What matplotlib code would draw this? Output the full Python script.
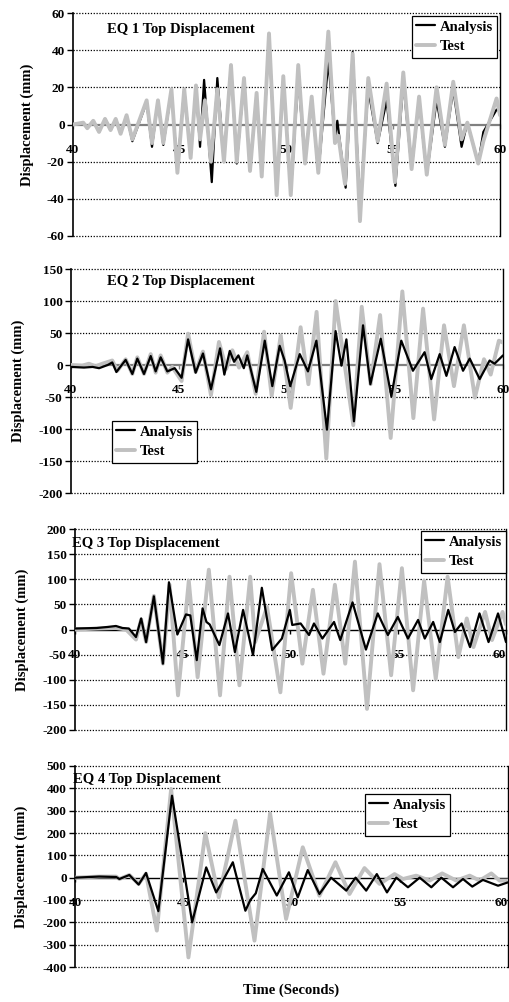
import matplotlib
matplotlib.use("Agg")
import matplotlib.pyplot as plt

plt.rcParams['font.family'] = ['Liberation Serif', 'DejaVu Serif']
plt.rcParams['font.weight'] = 'bold'

# ---------------- data ----------------
eq1_test_t = [40.00, 40.48, 40.67, 40.95, 41.22, 41.50, 41.76, 42.00, 42.23, 42.51, 42.78, 43.45, 43.70,
              43.98, 44.23, 44.61, 44.89, 45.21, 45.51, 45.76, 45.95, 46.18, 46.46, 46.76, 47.07, 47.40,
              47.67, 48.01, 48.29, 48.60, 48.84, 49.18, 49.54, 49.85, 50.20, 50.55, 50.87, 51.18, 51.49,
              51.96, 52.27, 52.43, 52.74, 53.10, 53.44, 53.83, 54.27, 54.69, 55.08, 55.47, 55.86, 56.21,
              56.57, 57.03, 57.42, 57.81, 58.20, 58.47, 58.98, 59.22, 59.84, 60.00]
eq1_test_v = [0, 1, -2, 2, -4, 3, -3, 3, -5, 5, -8, 13, -10, 13, -10, 19, -26, 19, -18, 21, -8, 13, -20,
              19, -20, 32, -20, 25, -25, 17, -28, 49, -38, 26, -38, 32, -21, 15, -26, 50, -10, -6, -32, 38,
              -52, 25, -9, 22, -31, 28, -24, 15, -27, 20, -11, 23, -8, 1, -21, -9, 14, 5]
eq1_ana_t = [40.00, 40.48, 40.67, 40.95, 41.22, 41.50, 41.76, 42.00, 42.23, 42.51, 42.78, 43.45, 43.70,
             43.98, 44.23, 44.61, 44.89, 45.21, 45.51, 45.76, 45.95, 46.14, 46.50, 46.76, 47.07, 47.40,
             47.67, 48.01, 48.29, 48.60, 48.84, 49.18, 49.54, 49.85, 50.20, 50.55, 50.87, 51.18, 51.49,
             51.96, 52.27, 52.38, 52.77, 53.10, 53.44, 53.83, 54.27, 54.69, 55.10, 55.47, 55.86, 56.21,
             56.57, 57.03, 57.42, 57.81, 58.20, 58.47, 58.98, 59.22, 59.84, 60.00]
eq1_ana_v = [0, 1, -2, 2, -4, 3, -3, 3, -5, 5, -9, 12, -12, 13, -11, 18, -24, 19, -17, 20, -12, 24, -31,
             25, -19, 32, -21, 24, -24, 16, -27, 47, -37, 25, -37, 25, -20, 14, -26, 34, -7, 2, -34, 39,
             -45, 19, -10, 13, -33, 23, -24, 13, -27, 13, -12, 19, -12, 1, -21, -4, 8, 8]

eq2_test_t = [40.00, 40.52, 40.83, 41.14, 41.45, 41.91, 42.15, 42.53, 42.84, 43.07, 43.38, 43.69, 43.92,
              44.15, 44.46, 44.69, 45.12, 45.42, 45.77, 46.11, 46.48, 46.85, 47.19, 47.47, 47.78, 48.16,
              48.55, 48.94, 49.29, 49.71, 50.17, 50.63, 50.99, 51.37, 51.82, 52.25, 53.07, 53.46, 53.87,
              54.31, 54.80, 55.34, 55.85, 56.30, 56.81, 57.27, 57.73, 58.19, 58.70, 59.12, 59.43, 59.81,
              60.00]
eq2_test_v = [0, -1, 2, -2, 2, 7, -9, 9, -14, 12, -14, 17, -12, 15, -12, -3, -25, 49, -11, 21, -47, 36,
              -6, 23, -4, 20, -45, 52, -48, 46, -67, 59, -30, 83, -146, 100, -94, 91, -30, 78, -114, 115,
              -83, 88, -85, 62, -33, 62, -51, 9, -15, 38, 35]
eq2_ana_t = [40.00, 40.60, 41.00, 41.30, 41.70, 41.91, 42.10, 42.53, 42.84, 43.07, 43.38, 43.69, 43.92,
             44.15, 44.46, 44.80, 45.12, 45.42, 45.77, 46.11, 46.48, 46.90, 47.10, 47.35, 47.55, 47.75,
             48.00, 48.16, 48.58, 48.97, 49.32, 49.66, 49.89, 50.15, 50.59, 50.97, 51.36, 51.85, 52.25,
             52.52, 52.75, 53.10, 53.52, 53.86, 54.34, 54.83, 55.29, 55.83, 56.37, 56.68, 57.07, 57.38,
             57.76, 58.15, 58.46, 58.92, 59.38, 59.61, 60.00]
eq2_ana_v = [-3, -4, -3, -5, 0, 4, -11, 8, -14, 10, -14, 14, -10, 12, -10, -5, -20, 40, -12, 18, -38,
             26, -15, 22, 5, 15, -5, 15, -42, 38, -33, 30, 7, -33, 17, -10, 38, -101, 53, -1, 40, -88, 62,
             -30, 41, -49, 38, -9, 20, -22, 17, -17, 28, -9, 10, -22, 7, 2, 15]

eq3_test_t = [40.00, 41.12, 41.90, 42.37, 42.83, 43.07, 43.30, 43.66, 44.08, 44.39, 44.78, 45.28, 45.69,
              46.21, 46.73, 47.17, 47.63, 48.13, 48.36, 48.91, 49.53, 50.03, 50.55, 51.04, 51.53, 52.06,
              52.54, 52.99, 53.55, 54.13, 54.67, 55.17, 55.69, 56.20, 56.74, 57.29, 57.79, 58.18, 58.49,
              59.03, 59.35, 59.84, 60.00]
eq3_test_v = [0, 2, 3, 0, -20, 20, -25, 67, -68, 89, -131, 97, -95, 119, -131, 105, -111, 105, -25, 45,
              -125, 112, -68, 79, -88, 89, -68, 135, -158, 130, -91, 122, -121, 97, -98, 105, -55, 22,
              -35, 35, -21, 35, 10]
eq3_ana_t = [40.00, 41.00, 41.50, 41.90, 42.20, 42.50, 42.83, 43.07, 43.30, 43.66, 44.08, 44.36, 44.75,
             45.15, 45.35, 45.65, 45.92, 46.10, 46.25, 46.70, 47.10, 47.42, 47.80, 48.26, 48.67, 49.15,
             49.60, 49.97, 50.08, 50.47, 50.86, 51.09, 51.48, 52.02, 52.31, 52.88, 53.50, 54.05, 54.52,
             54.98, 55.45, 55.92, 56.23, 56.62, 56.93, 57.32, 57.63, 57.94, 58.33, 58.77, 59.19, 59.63,
             60.00]
eq3_ana_v = [2, 3, 5, 7, 3, 2, -15, 22, -25, 66, -68, 94, -10, 30, 28, -61, 42, 15, 10, -31, 32, -45, 39,
             -51, 83, -41, -18, 39, 9, 12, -11, 12, -18, 15, -21, 54, -40, 32, -11, 25, -18, 19, -18, 15,
             -25, 39, -5, 12, -35, 32, -25, 32, -25]

eq4_test_t = [40.00, 41.12, 41.90, 42.05, 42.51, 42.94, 43.28, 43.78, 44.44, 45.24, 46.02, 46.64, 47.41,
              48.29, 49.01, 49.75, 50.52, 51.29, 52.03, 52.68, 53.37, 54.07, 54.76, 55.15, 55.76, 56.38,
              56.96, 57.61, 58.23, 58.69, 59.23, 59.61, 60.00]
eq4_test_v = [0, 5, 5, -6, 12, -28, 18, -237, 397, -357, 199, -88, 255, -282, 288, -185, 136, -81, 69,
              -73, 43, -28, 16, -6, 9, -13, 19, -13, 9, -13, 19, -13, -13]
eq4_ana_t = [40.00, 41.12, 41.90, 42.05, 42.51, 42.94, 43.28, 43.85, 44.48, 45.41, 46.06, 46.52, 46.75,
             47.29, 47.87, 48.10, 48.35, 48.67, 49.32, 49.88, 50.29, 50.75, 51.29, 51.83, 52.53, 52.96,
             53.45, 53.94, 54.41, 54.84, 55.38, 55.92, 56.46, 56.92, 57.46, 57.92, 58.35, 58.84, 59.54,
             60.00]
eq4_ana_v = [0, 5, 3, -6, 12, -31, 21, -150, 367, -200, 46, -66, -28, 69, -148, -100, -70, 39, -80, 24,
             -88, 34, -73, 0, -58, 0, -58, 16, -66, 0, -43, 0, -43, 0, -43, -6, -40, -10, -36, -21]

titles = ["EQ 1 Top Displacement", "EQ 2 Top Displacement", "EQ 3 Top Displacement", "EQ 4 Top Displacement"]
y_limits = [(-60, 60), (-200, 150), (-200, 200), (-400, 500)]
y_steps = [20, 50, 50, 100]
x_ticks = [40, 45, 50, 55, 60]
series_names = ["Analysis", "Test"]

# ---------------- layout ----------------
W, H = 510, 1002
fig = plt.figure(figsize=(W / 100, H / 100), dpi=100)

# pixel boxes: left, right, top, bottom
boxes = [(73, 500, 13, 236), (71, 503, 269, 493), (75, 506, 529, 730), (75, 508, 766, 967)]
title_pos = [(107, 29), (107, 282), (72, 544), (73, 780)]
legend_pos = [(412, 16), (112, 421), (421, 531), (365, 794)]
ylabel_x = [27, 18, 22, 21]
zero_colors = ['#808080', '#808080', 'black', 'black']
grey_on_top = [True, False, False, False]

data = [(eq1_ana_t, eq1_ana_v, eq1_test_t, eq1_test_v),
        (eq2_ana_t, eq2_ana_v, eq2_test_t, eq2_test_v),
        (eq3_ana_t, eq3_ana_v, eq3_test_t, eq3_test_v),
        (eq4_ana_t, eq4_ana_v, eq4_test_t, eq4_test_v)]

grey = '#c0c0c0'
for i in range(4):
    l, r, t, b = boxes[i]
    ax = fig.add_axes([l / W, 1 - b / H, (r - l) / W, (b - t) / H])
    at, av, tt, tv = data[i]
    z_a, z_t = (3, 4) if grey_on_top[i] else (4, 3)
    la, = ax.plot(at, av, color='black', lw=1.6, zorder=z_a, solid_joinstyle='round',
                  solid_capstyle='round')
    lt, = ax.plot(tt, tv, color=grey, lw=2.8, zorder=z_t, solid_joinstyle='round',
                  solid_capstyle='round')
    ymin, ymax = y_limits[i]
    ax.set_xlim(40, 60)
    ax.set_ylim(ymin, ymax)
    yt = list(range(ymin, ymax + 1, y_steps[i]))
    ax.set_yticks(yt)
    ax.set_yticklabels([str(v) for v in yt])
    ax.set_xticks(x_ticks)
    ax.set_xticklabels([str(v) for v in x_ticks])
    for yv in yt:
        if yv != 0:
            ax.axhline(yv, color='black', lw=0.9, ls=(0, (1, 1.3)), zorder=1, clip_on=False)
    ax.spines['top'].set_visible(False)
    ax.spines['right'].set_color('black')
    ax.spines['right'].set_linewidth(1.0)
    ax.spines['left'].set_color('black')
    ax.spines['left'].set_linewidth(1.2)
    ax.spines['bottom'].set_position(('data', 0))
    ax.spines['bottom'].set_color(zero_colors[i])
    ax.spines['bottom'].set_linewidth(1.6 if i < 2 else 1.0)
    ax.spines['bottom'].set_zorder(2)
    ax.tick_params(axis='y', direction='out', length=4, width=1, labelsize=9.5, pad=2)
    ax.tick_params(axis='x', direction='out', length=3, width=1, color=zero_colors[i],
                   labelsize=9.5, pad=11)
    for lab in ax.get_xticklabels() + ax.get_yticklabels():
        lab.set_fontweight('bold')
    if i >= 2:
        ax.get_xticklabels()[-1].set_horizontalalignment('right')
    fig.text(title_pos[i][0] / W, 1 - title_pos[i][1] / H, titles[i], fontsize=10.5,
             fontweight='bold', va='center', ha='left')
    fig.text(ylabel_x[i] / W, 1 - ((t + b) / 2) / H, "Displacement (mm)", fontsize=10.5,
             fontweight='bold', rotation=90, va='center', ha='center')
    lx, ly = legend_pos[i]
    leg = ax.legend([la, lt], series_names, loc='upper left',
                    bbox_to_anchor=(lx / W, 1 - ly / H), bbox_transform=fig.transFigure,
                    fancybox=False, framealpha=1, edgecolor='black',
                    handlelength=1.3, handletextpad=0.3, labelspacing=0.45,
                    borderpad=0.3, borderaxespad=0, prop={'weight': 'bold', 'size': 10.5})
    leg.get_frame().set_linewidth(0.9)
    leg.set_zorder(10)

fig.text(291 / W, 1 - 990 / H, "Time (Seconds)", fontsize=10.5, fontweight='bold',
         ha='center', va='center')

fig.savefig("out.png", dpi=100)
